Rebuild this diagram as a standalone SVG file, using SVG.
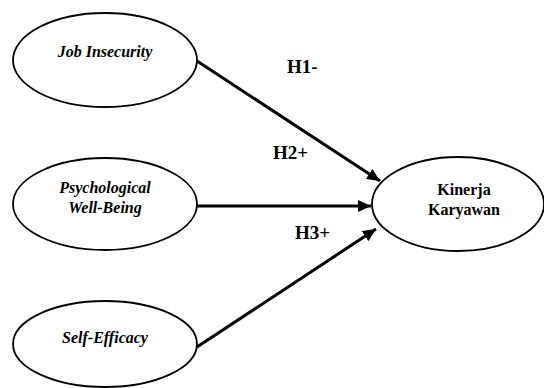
<svg xmlns="http://www.w3.org/2000/svg" width="544" height="388" viewBox="0 0 544 388">
<style>
.node{fill:#fff;stroke:#000;stroke-width:1.8}
.lbl{font-family:'Liberation Serif','Times New Roman',Times,serif;font-size:16px;font-weight:700;text-anchor:middle;fill:#000}
.it{font-style:italic}
.h{font-family:'Liberation Serif','Times New Roman',Times,serif;font-size:19px;font-weight:700;fill:#000}
.conn{stroke:#000;stroke-width:3;fill:none;marker-end:url(#arr)}
</style>
<defs>
<marker id="arr" markerUnits="userSpaceOnUse" markerWidth="14" markerHeight="12" refX="13" refY="6" orient="auto">
<path d="M0,0 L13,6 L0,12 Z" fill="#000"/>
</marker>
</defs>
<rect width="544" height="388" fill="#fff"/>
<g id="connectors">
<line class="conn" x1="197" y1="61" x2="380" y2="181"/>
<line class="conn" x1="197" y1="206" x2="371" y2="206"/>
<line class="conn" x1="197" y1="347" x2="376" y2="229"/>
</g>
<g id="job-insecurity">
<ellipse class="node" cx="105" cy="60" rx="92" ry="47"/>
<text class="lbl it" x="105" y="57">Job Insecurity</text>
</g>
<g id="psychological-well-being">
<ellipse class="node" cx="105" cy="204" rx="92" ry="46"/>
<text class="lbl it" x="105" y="193">Psychological</text>
<text class="lbl it" x="105" y="213">Well-Being</text>
</g>
<g id="self-efficacy">
<ellipse class="node" cx="105" cy="344" rx="92" ry="43"/>
<text class="lbl it" x="105" y="343">Self-Efficacy</text>
</g>
<g id="kinerja-karyawan">
<ellipse class="node" cx="458" cy="204" rx="86" ry="47"/>
<text class="lbl" x="464" y="195">Kinerja</text>
<text class="lbl" x="464" y="215">Karyawan</text>
</g>
<g id="labels">
<text class="h" x="287" y="73">H1-</text>
<text class="h" x="273" y="159">H2+</text>
<text class="h" x="295" y="239">H3+</text>
</g>
</svg>
